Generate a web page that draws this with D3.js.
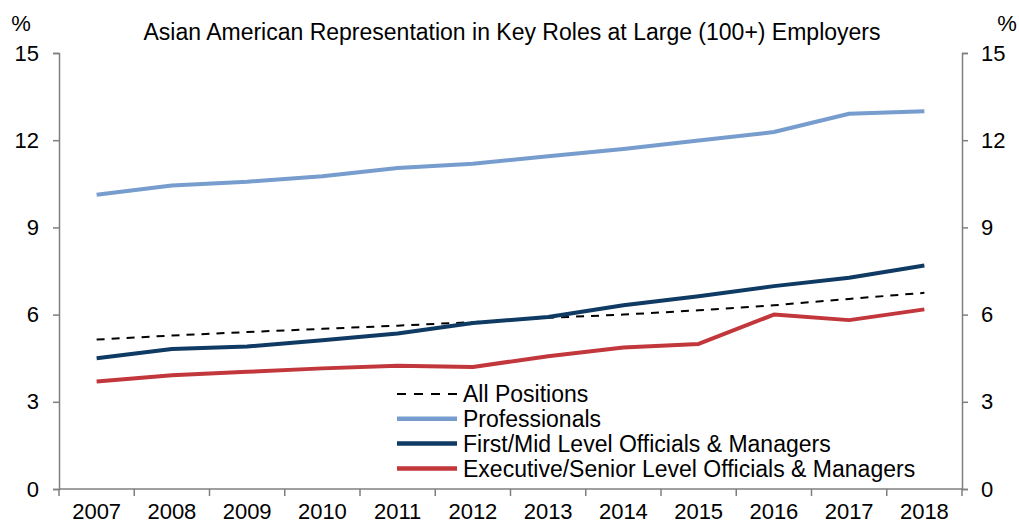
<!DOCTYPE html>
<html><head><meta charset="utf-8">
<script src="https://cdn.jsdelivr.net/npm/d3@7"></script>
<style>body{margin:0;background:#fff}svg{display:block;font-family:"Liberation Sans",Arial,sans-serif}</style>
</head><body><svg id="c" width="1019" height="525"></svg>
<script>
const years = ["2007","2008","2009","2010","2011","2012","2013","2014","2015","2016","2017","2018"];
const allPositions = [5.14,5.28,5.40,5.51,5.62,5.74,5.89,6.00,6.15,6.32,6.54,6.75];
const professionals = [10.12,10.44,10.57,10.76,11.04,11.19,11.45,11.70,11.99,12.28,12.91,13.00];
const firstMid = [4.50,4.82,4.90,5.12,5.35,5.71,5.92,6.32,6.63,6.98,7.27,7.69];
const executive = [3.70,3.91,4.03,4.15,4.24,4.20,4.57,4.87,4.99,6.00,5.81,6.18];
const yTicks = [0,3,6,9,12,15];
const seriesNames = ["All Positions","Professionals","First/Mid Level Officials & Managers","Executive/Senior Level Officials & Managers"];
const title = "Asian American Representation in Key Roles at Large (100+) Employers";

const svg = d3.select("#c");
const L = 59, R = 962, T = 53, B = 489;
const x = d3.scaleBand().domain(years).range([L, R]);
const y = d3.scaleLinear().domain([0, 15]).range([B, T]);
const axisColor = "#7f7f7f";

const gl = svg.append("g").attr("transform", `translate(${L},0)`)
  .call(d3.axisLeft(y).tickValues(yTicks).tickSize(6).tickPadding(14));
const gr = svg.append("g").attr("transform", `translate(${R},0)`)
  .call(d3.axisRight(y).tickValues(yTicks).tickSize(6).tickPadding(13));
const gb = svg.append("g").attr("transform", `translate(0,${B})`)
  .call(d3.axisBottom(x).tickSize(0).tickPadding(15));
const edges = years.map(d => x(d)).concat([x(years[years.length-1]) + x.bandwidth()]);
gb.selectAll(".edge").data(edges).enter().append("line").attr("class","edge")
  .attr("x1", d => d).attr("x2", d => d).attr("y1", 0).attr("y2", 7)
  .attr("stroke", axisColor).attr("stroke-width", 1.5);

[gl, gr, gb].forEach(g => {
  g.selectAll(".domain").attr("stroke", axisColor).attr("stroke-width", 1.5);
  g.selectAll(".tick line").attr("stroke", axisColor).attr("stroke-width", 1.5);
  g.selectAll("text").attr("font-size", 22).attr("fill", "#000").attr("font-family", '"Liberation Sans",Arial,sans-serif');
});
gb.selectAll(".domain").attr("d", `M${L},0H${R}`);
gb.selectAll("text").attr("dy", "0.68em");

svg.append("text").attr("x", 21).attr("y", 31).attr("text-anchor","middle").attr("font-size", 22).text("%");
svg.append("text").attr("x", 1007).attr("y", 31).attr("text-anchor","middle").attr("font-size", 22).text("%");
svg.append("text").attr("x", 512).attr("y", 40).attr("text-anchor","middle").attr("font-size", 23).text(title);

const line = d3.line().x((d,i) => x(years[i]) + x.bandwidth()/2).y(d => y(d));
const series = [
  {v: allPositions, c: "#000", w: 2, dash: "8,7"},
  {v: professionals, c: "#769dcd", w: 4, dash: null},
  {v: firstMid, c: "#0e3a63", w: 4, dash: null},
  {v: executive, c: "#c2373b", w: 4, dash: null}
];
const drawOrder = [1, 0, 2, 3];
drawOrder.forEach(k => {
  const s = series[k];
  svg.append("path").datum(s.v).attr("d", line).attr("fill","none")
    .attr("stroke", s.c).attr("stroke-width", s.w).attr("stroke-dasharray", s.dash)
    .attr("stroke-linejoin","round");
});

const lg = svg.append("g");
series.forEach((s, i) => {
  const yy = 394 + i * 24.8;
  lg.append("line").attr("x1", 397).attr("x2", 457).attr("y1", yy).attr("y2", yy)
    .attr("stroke", s.c).attr("stroke-width", s.w === 2 ? 2 : 4.5).attr("stroke-dasharray", s.dash ? "9,8" : null);
  lg.append("text").attr("x", 463).attr("y", yy).attr("dy", "0.36em").attr("font-size", 23).text(seriesNames[i]);
});
</script></body></html>
